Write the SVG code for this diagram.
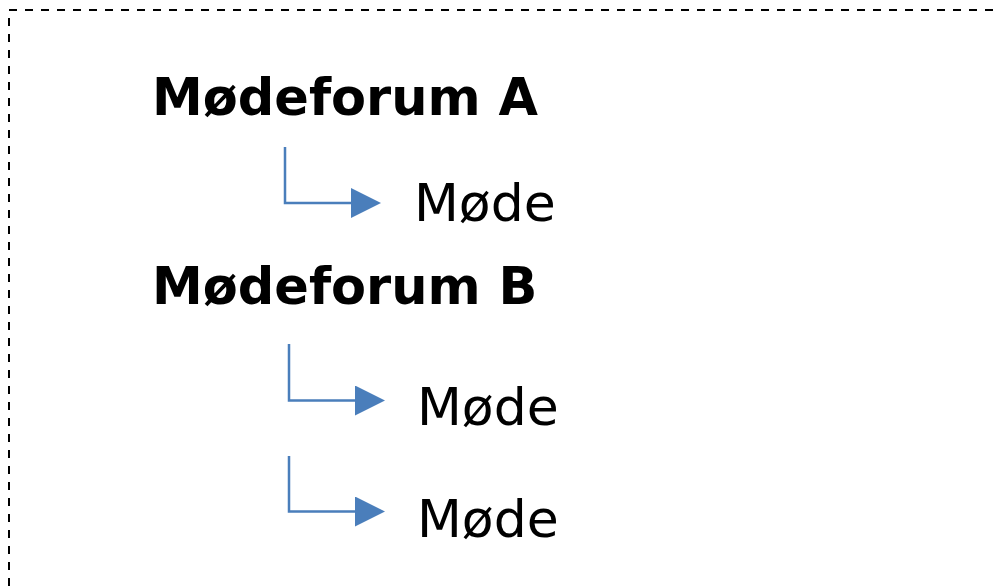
<svg xmlns="http://www.w3.org/2000/svg" width="999" height="586" viewBox="0 0 999 586">
  <defs>
    <style>
      .frame { fill: none; stroke: #000; stroke-width: 2; stroke-dasharray: 8 8; }
      .title { font-family: "DejaVu Sans", Verdana, sans-serif; font-weight: bold; font-size: 51px; fill: #000; }
      .item { font-family: "DejaVu Sans", Verdana, sans-serif; font-size: 52px; fill: #000; }
      .conn { fill: none; stroke: #4A7EBB; stroke-width: 2.5; }
    </style>
    <marker id="arr" markerUnits="userSpaceOnUse" markerWidth="31" markerHeight="31" refX="1" refY="15" orient="auto">
      <path d="M0,0 L30,15 L0,30 Z" fill="#4A7EBB"/>
    </marker>
  </defs>
  <rect width="999" height="586" fill="#fff"/>
  <path class="frame" d="M9,586 L9,10 L999,10"/>
  <g id="forumA"><text class="title" x="152" y="115">Mødeforum A</text></g>
  <g id="modeA1"><text class="item" x="414" y="221">Møde</text></g>
  <g id="forumB"><text class="title" x="152" y="304">Mødeforum B</text></g>
  <g id="modeB1"><text class="item" x="417" y="425">Møde</text></g>
  <g id="modeB2"><text class="item" x="417" y="537">Møde</text></g>
  <g id="connectors">
    <path class="conn" d="M285,147 L285,203 L352,203" marker-end="url(#arr)"/>
    <path class="conn" d="M289,344 L289,400.5 L356,400.5" marker-end="url(#arr)"/>
    <path class="conn" d="M289,456 L289,511.5 L356,511.5" marker-end="url(#arr)"/>
  </g>
</svg>
